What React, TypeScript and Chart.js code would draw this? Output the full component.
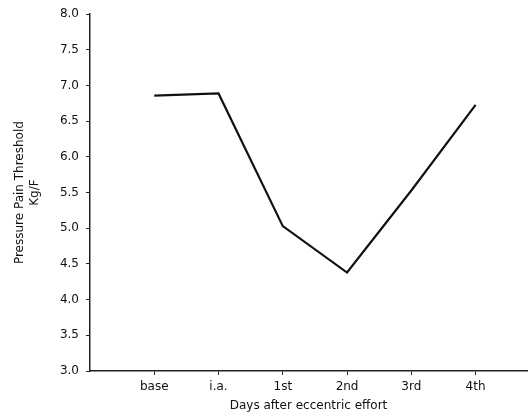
import React, { useEffect, useRef } from "react";
import { Chart, registerables } from "chart.js";

Chart.register(...registerables);

const categories = ["base", "i.a.", "1st", "2nd", "3rd", "4th"];
const thresholdValues = [6.86, 6.89, 5.03, 4.38, 5.53, 6.73];
const yTickValues = [3.0, 3.5, 4.0, 4.5, 5.0, 5.5, 6.0, 6.5, 7.0, 7.5, 8.0];

const FONT = "'DejaVu Sans', sans-serif";

export default function App() {
  const ref = useRef<HTMLCanvasElement | null>(null);

  useEffect(() => {
    document.body.style.margin = "0";
    const ctx = ref.current!;
    const points = thresholdValues.map((v, i) => ({ x: i + 1, y: v }));
    const chart = new Chart(ctx, {
      type: "line",
      data: {
        datasets: [
          {
            data: points,
            borderColor: "#111",
            borderWidth: 2.2,
            pointRadius: 0,
            tension: 0,
            fill: false,
          },
        ],
      },
      options: {
        animation: false,
        responsive: false,
        maintainAspectRatio: false,
        layout: { padding: { top: 14, right: 5, left: 13, bottom: 0 } },
        plugins: { legend: { display: false }, tooltip: { enabled: false } },
        scales: {
          x: {
            type: "linear",
            min: 0,
            max: 6.8,
            border: { color: "#222", width: 1.5 },
            grid: { drawOnChartArea: false, tickLength: 4, color: "#222" },
            afterBuildTicks: (scale: any) => {
              scale.ticks = categories.map((_, i) => ({ value: i + 1 }));
            },
            ticks: {
              autoSkip: false,
              maxRotation: 0,
              color: "#111",
              font: { family: FONT, size: 12 },
              padding: 5,
              callback: (v: any) => categories[Number(v) - 1] ?? "",
            },
            title: {
              display: true,
              text: "Days after eccentric effort",
              color: "#111",
              font: { family: FONT, size: 12 },
              padding: { top: 0, bottom: 1 },
            },
            afterFit: (scale: any) => {
              scale.height = 43;
            },
          },
          y: {
            type: "linear",
            min: 3,
            max: 8,
            border: { color: "#222", width: 1.5 },
            grid: { drawOnChartArea: false, tickLength: 4, color: "#222" },
            afterBuildTicks: (scale: any) => {
              scale.ticks = yTickValues.map((v) => ({ value: v }));
            },
            ticks: {
              color: "#111",
              font: { family: FONT, size: 12 },
              padding: 7,
              callback: (v: any) => Number(v).toFixed(1),
            },
            title: {
              display: true,
              text: ["Pressure Pain Threshold", "Kg/F"],
              color: "#111",
              font: { family: FONT, size: 12 },
              padding: { top: 0, bottom: 8 },
            },
            afterFit: (scale: any) => {
              scale.width = 77;
            },
          },
        },
      },
    });
    return () => chart.destroy();
  }, []);

  return (
    <div style={{ width: 532, height: 414, background: "#fff" }}>
      <canvas ref={ref} width={532} height={414} />
    </div>
  );
}
